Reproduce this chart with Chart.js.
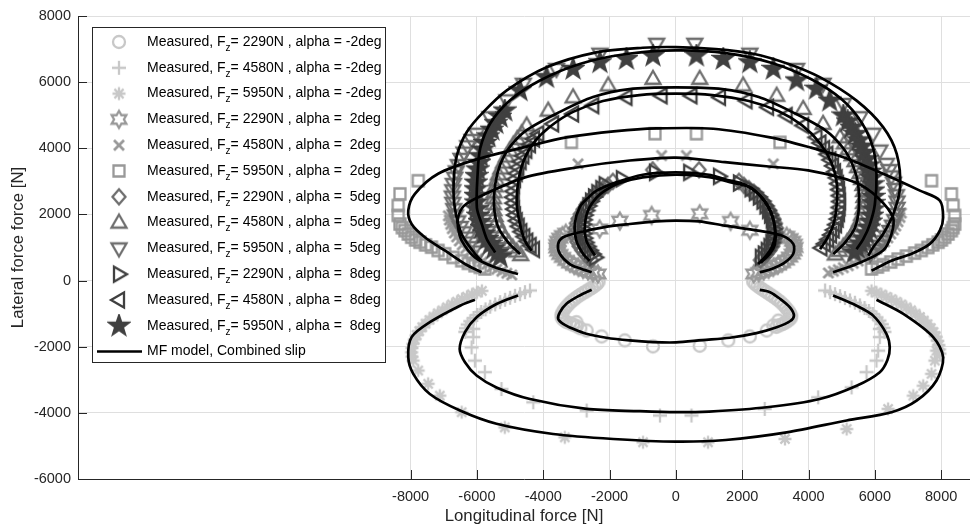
<!DOCTYPE html>
<html>
<head>
<meta charset="utf-8">
<script src="https://cdn.jsdelivr.net/npm/chart.js@4.4.1/dist/chart.umd.min.js"></script>
<style>
  html, body { margin: 0; padding: 0; background: #fff; }
  canvas { display: block; }
</style>
</head>
<body>
<canvas id="chart" width="970" height="528"></canvas>
<script>
// ---- axis ticks ----
const xTicks = [-8000, -6000, -4000, -2000, 0, 2000, 4000, 6000, 8000];
const yTicks = [-6000, -4000, -2000, 0, 2000, 4000, 6000, 8000];

// ---- legend text ----
const legendFz = ['2290', '4580', '5950', '2290', '4580', '5950', '2290', '4580', '5950', '2290', '4580', '5950'];
const legendAlpha = ['-2', '-2', '-2', ' 2', ' 2', ' 2', ' 5', ' 5', ' 5', ' 8', ' 8', ' 8'];
const modelLabel = 'MF model, Combined slip';

// ---- measured data [Fx, Fy] ----
const meas_m2_2290 = [[-3000,-1260],[-2690,-1510],[-2240,-1690],[-1540,-1810],[-690,-1990],[720,-1970],[1580,-1810],[2230,-1690],[2740,-1510],[2940,-1360],[3090,-1210],
  [-2330,-30],[-2380,-100],[-2450,-160],[-2530,-220],[-2620,-270],[-2710,-330],[-2800,-380],[-2890,-440],[-2980,-500],[-3070,-570],[-3160,-640],[-3240,-720],[-3310,-800],[-3370,-880],[-3420,-960],[-3450,-1040],[-3440,-1120],[-3390,-1190],[-3310,-1250],[-3200,-1290],[-3100,-1330],[-2990,-1380],[-2880,-1440],
  [2330,-30],[2390,-100],[2460,-160],[2540,-220],[2630,-280],[2720,-340],[2810,-400],[2900,-460],[2990,-520],[3080,-590],[3170,-660],[3250,-740],[3320,-820],[3390,-900],[3440,-980],[3480,-1060],[3460,-1140],[3400,-1200],[3320,-1260],[3230,-1310],[3130,-1350],[3030,-1400]];
const meas_m2_4580 = [[-6110,-1460],[-6110,-1710],[-6160,-2020],[-6060,-2420],[-5760,-2770],[-5260,-3280],[-4300,-3680],[-2690,-3930],[-480,-4080],[470,-4080],[2680,-3880],[4290,-3530],[5300,-3230],[5750,-2770],[6050,-2420],[6100,-2120],[6150,-1710],[6150,-1460],
  [-4400,-300],[-4550,-350],[-4700,-410],[-4850,-460],[-5000,-520],[-5150,-580],[-5300,-650],[-5450,-720],[-5600,-790],[-5740,-870],[-5870,-950],[-5990,-1040],[-6100,-1130],[-6200,-1230],[-6280,-1330],[-6330,-1440],[-6350,-1550],
  [4500,-300],[4650,-350],[4800,-410],[4950,-470],[5100,-530],[5250,-600],[5400,-670],[5550,-750],[5690,-830],[5820,-920],[5940,-1010],[6050,-1110],[6140,-1210],[6210,-1320],[6260,-1430],[6290,-1550]];
const meas_m2_5950 = [[-7920,-2420],[-7770,-2720],[-7470,-3120],[-7120,-3480],[-6460,-3980],[-5160,-4440],[-3350,-4740],[-990,-4890],[970,-4890],[3290,-4790],[5150,-4490],[6400,-3880],[7160,-3480],[7460,-3180],[7710,-2820],[7810,-2420],[7860,-2120],
  [-5850,-310],[-6000,-360],[-6150,-420],[-6300,-490],[-6450,-560],[-6600,-640],[-6750,-720],[-6900,-810],[-7040,-900],[-7180,-990],[-7310,-1090],[-7430,-1190],[-7550,-1300],[-7650,-1410],[-7740,-1530],[-7820,-1650],[-7880,-1780],[-7930,-1910],[-7960,-2040],[-7970,-2170],[-7960,-2300],
  [5900,-310],[6050,-360],[6200,-420],[6350,-490],[6500,-560],[6650,-640],[6800,-720],[6950,-810],[7090,-900],[7230,-1000],[7360,-1100],[7480,-1210],[7590,-1320],[7690,-1440],[7770,-1560],[7840,-1690],[7890,-1820],[7930,-1950],[7950,-2080],[7960,-2210]];
const meas_2_2290 = [[-2300,1560],[-1690,1800],[-730,1970],[720,2020],[1650,1790],[2230,1520],
  [-2350,200],[-2500,240],[-2650,290],[-2800,340],[-2940,400],[-3070,460],[-3200,530],[-3320,610],[-3420,700],[-3500,790],[-3560,890],[-3590,990],[-3590,1090],[-3560,1190],[-3500,1280],[-3420,1360],[-3320,1430],
  [2350,200],[2500,240],[2650,290],[2800,340],[2940,400],[3080,470],[3210,540],[3330,620],[3430,710],[3510,800],[3560,900],[3590,1000],[3570,1100],[3520,1190],[3440,1270],[3340,1340]];
const meas_2_4580 = [[-2950,3530],[-430,3780],[320,3780],[2940,3530],
  [-4950,170],[-5100,220],[-5250,280],[-5400,340],[-5550,410],[-5700,490],[-5840,570],[-5980,660],[-6110,760],[-6230,860],[-6340,970],[-6440,1080],[-6530,1200],[-6610,1320],[-6680,1440],[-6740,1570],[-6790,1700],[-6830,1830],[-6860,1960],
  [4600,230],[4750,280],[4900,330],[5050,390],[5200,450],[5350,520],[5500,590],[5650,670],[5790,760],[5930,850],[6060,950],[6180,1060],[6290,1170],[6390,1290],[6480,1410],[6560,1530],[6630,1650],[6700,1780],[6760,1910],[6800,2040]];
const meas_2_5950 = [[-3150,4180],[-630,4440],[620,4440],[3140,4180],
  [-7770,3020],[-8320,2620],[-8375,2270],[-8375,1970],[-8320,1710],[-8250,1600],[-8170,1510],[-8070,1410],[-7970,1310],[-7850,1230],[-7720,1160],[-7550,1080],[-7370,1010],[-7170,910],[-6970,810],[-6720,700],[-6460,600],[-6260,520],[-6060,450],[-5900,400],[-5760,350],
  [7710,3020],[8310,2620],[8360,2270],[8410,1970],[8410,1710],[8360,1600],[8310,1510],[8210,1410],[8110,1310],[8010,1230],[7910,1160],[7750,1080],[7600,1000],[7400,910],[7200,830],[6950,740],[6700,650],[6480,560],[6250,480],[6080,410],[5900,350]];
const meas_5_2290 = [[-1900,3000],[-700,3350],[700,3350],[1900,3000],
  [-2050,2880],[-2200,2780],[-2350,2670],[-2480,2550],[-2600,2420],[-2710,2290],[-2800,2150],[-2880,2010],[-2950,1870],[-3000,1730],[-3030,1590],[-3040,1450],[-3020,1310],[-2980,1170],[-2920,1040],[-2840,920],[-2750,810],[-2650,710],[-2550,620],
  [2050,2880],[2200,2780],[2350,2670],[2480,2550],[2600,2420],[2710,2290],[2800,2150],[2880,2010],[2950,1870],[3000,1730],[3030,1590],[3040,1450],[3020,1310],[2980,1170],[2920,1040],[2840,920],[2750,810],[2650,710],[2550,620]];
const meas_5_4580 = [[-690,6100],[-2040,5900],[-3100,5540],[-3850,5140],[-4500,4690],[720,6100],[2030,5900],[3040,5590],[3840,5190],[4440,4740],[4950,4330],
  [-4650,4450],[-4780,4280],[-4900,4110],[-5010,3930],[-5110,3750],[-5200,3570],[-5280,3390],[-5350,3210],[-5410,3030],[-5450,2850],[-5480,2670],[-5500,2490],[-5500,2310],[-5490,2130],[-5450,1950],[-5400,1780],[-5330,1610],[-5250,1450],[-5150,1290],[-5040,1140],[-4920,1000],[-4800,880],[-4680,770],
  [5080,4150],[5200,3970],[5310,3790],[5400,3610],[5480,3430],[5550,3250],[5600,3070],[5640,2890],[5660,2710],[5670,2530],[5660,2350],[5640,2170],[5600,1990],[5540,1810],[5470,1640],[5380,1480],[5280,1320],[5170,1170],[5050,1030],[4930,900],[4810,790]];
const meas_5_5950 = [[-580,7160],[-2290,6860],[-3600,6400],[-4600,5950],[-5100,5450],[-5610,4940],[-6010,4440],[570,7160],[2230,6860],[3640,6400],[4440,5950],[5050,5340],[5550,4940],[5950,4440],[6150,3930],[6350,3530],
  [-6150,4250],[-6280,4060],[-6390,3870],[-6480,3680],[-6560,3490],[-6620,3300],[-6670,3110],[-6710,2920],[-6730,2730],[-6740,2540],[-6730,2350],[-6700,2160],[-6650,1970],[-6580,1790],[-6500,1620],[-6400,1460],[-6290,1300],[-6170,1150],[-6040,1010],[-5910,880],
  [6430,3340],[6500,3150],[6560,2960],[6610,2770],[6650,2580],[6670,2390],[6670,2200],[6650,2010],[6600,1830],[6530,1660],[6450,1500],[6350,1340],[6240,1190],[6120,1050],[5990,920],[5860,800]];
const meas_8_2290 = [[-2150,2900],[-1630,3080],[-630,3270],[400,3270],[1300,3150],[1900,2950],
  [-2250,2780],[-2370,2660],[-2470,2530],[-2560,2400],[-2640,2260],[-2700,2120],[-2750,1980],[-2780,1840],[-2800,1700],[-2800,1560],[-2790,1420],[-2760,1280],[-2720,1150],[-2660,1030],[-2590,910],[-2510,800],[-2430,700],
  [2250,2780],[2380,2660],[2500,2530],[2610,2400],[2700,2260],[2780,2120],[2840,1980],[2890,1840],[2920,1700],[2940,1560],[2940,1420],[2920,1280],[2880,1150],[2820,1030],[2740,910],[2650,800],[2560,700]];
const meas_8_4580 = [[-430,5590],[-1490,5540],[-2490,5290],[-3100,5040],[-3700,4740],[-4150,4440],[470,5590],[1330,5540],[2130,5440],[2780,5240],[3340,4990],[3840,4690],[4240,4330],
  [-4280,4280],[-4400,4110],[-4510,3940],[-4600,3770],[-4680,3600],[-4750,3420],[-4800,3240],[-4850,3060],[-4880,2880],[-4900,2700],[-4910,2520],[-4900,2340],[-4880,2160],[-4850,1980],[-4800,1810],[-4740,1640],[-4660,1480],[-4570,1330],[-4480,1190],[-4380,1060],[-4280,940],
  [4360,4160],[4470,3990],[4570,3820],[4660,3650],[4740,3470],[4800,3290],[4850,3110],[4890,2930],[4920,2750],[4940,2570],[4950,2390],[4940,2210],[4920,2030],[4880,1860],[4830,1690],[4760,1530],[4680,1380],[4590,1240],[4490,1110],[4390,990]];
const meas_8_5950 = [[-690,6800],[-1490,6700],[-2290,6600],[-3100,6400],[-3900,6150],[-4700,5750],[-5160,5140],[620,6800],[1430,6700],[2230,6600],[2940,6400],[3640,6050],[4240,5800],[4640,5440],[5050,4990],
  [-5300,4950],[-5430,4760],[-5550,4560],[-5660,4360],[-5750,4160],[-5830,3960],[-5890,3760],[-5940,3560],[-5980,3360],[-6010,3160],[-6030,2960],[-6040,2760],[-6040,2560],[-6030,2360],[-6010,2160],[-5970,1960],[-5920,1770],[-5860,1590],[-5780,1420],[-5690,1260],[-5590,1110],[-5490,970],[-5390,840],[-5300,720],
  [5180,4810],[5300,4620],[5410,4430],[5510,4240],[5600,4050],[5680,3860],[5750,3670],[5810,3480],[5860,3290],[5900,3100],[5930,2910],[5950,2720],[5960,2530],[5960,2340],[5950,2150],[5920,1960],[5880,1780],[5820,1600],[5750,1430],[5670,1270],[5580,1120],[5480,980],[5380,850]];

// ---- MF model curves [Fx, Fy] ----
const mf_m2_2290 = [[-2540,-280],[-2900,-450],[-3300,-700],[-3500,-960],[-3550,-1160],[-3400,-1310],[-3100,-1460],[-2700,-1610],[-2100,-1730],[-1400,-1810],[-700,-1860],[0,-1870],[800,-1800],[1630,-1730],[2430,-1590],[3040,-1410],[3440,-1230],[3560,-1060],[3440,-810],[3140,-550],[2840,-350],[2530,-280]];
const mf_m2_4580 = [[-4760,-450],[-5410,-710],[-6010,-1110],[-6360,-1560],[-6520,-2070],[-6360,-2470],[-6010,-2870],[-5410,-3230],[-4400,-3580],[-2690,-3880],[-1090,-3950],[0,-3980],[1000,-3960],[2740,-3830],[4340,-3580],[5450,-3180],[6150,-2770],[6380,-2400],[6450,-2020],[6350,-1610],[5950,-1060],[5450,-760],[4740,-450]];
const mf_m2_5950 = [[-6060,-580],[-6510,-760],[-7420,-1260],[-7970,-1710],[-8070,-2320],[-7920,-2820],[-7420,-3430],[-6510,-3930],[-5410,-4330],[-3700,-4640],[-1890,-4790],[0,-4870],[1500,-4820],[3340,-4590],[5150,-4230],[6500,-3980],[7260,-3630],[7860,-3020],[8060,-2320],[7760,-1710],[6860,-1010],[6050,-580]];
const mf_2_2290 = [[-2540,250],[-2900,370],[-3200,500],[-3500,810],[-3550,1110],[-3400,1310],[-2900,1460],[-2190,1610],[-1390,1710],[-600,1790],[0,1815],[700,1790],[1480,1660],[2480,1510],[3190,1360],[3540,1110],[3540,810],[3290,550],[2890,350],[2530,250]];
const mf_2_4580 = [[-4760,200],[-5460,400],[-6060,700],[-6460,1210],[-6570,1610],[-6570,1910],[-6400,2250],[-5960,2520],[-4550,3120],[-3000,3420],[-1390,3630],[0,3720],[1480,3580],[2800,3450],[3990,3330],[5400,2970],[6100,2500],[6550,1900],[6500,1400],[6250,910],[5450,500],[4740,250]];
const mf_2_5950 = [[-5860,250],[-6360,500],[-6970,910],[-7570,1310],[-7970,1710],[-8070,2120],[-7870,2620],[-7170,3230],[-5960,3680],[-4500,4050],[-3300,4330],[-1800,4520],[-580,4600],[1130,4590],[2840,4330],[4040,4030],[5050,3730],[6250,3230],[7360,2720],[7960,2420],[8060,1910],[7960,1510],[7660,1110],[7110,810],[6500,600],[5900,300]];
const mf_5_2290 = [[-2600,600],[-2800,810],[-3000,1210],[-3050,1710],[-2900,2220],[-2650,2500],[-2390,2720],[-1800,2970],[-1000,3200],[0,3270],[1000,3200],[1480,3060],[2080,2900],[2590,2520],[2890,2020],[2990,1410],[2890,1010],[2680,700],[2480,500]];
const mf_5_4580 = [[-4700,800],[-5050,1150],[-5350,1600],[-5480,2200],[-5450,2900],[-5300,3500],[-5000,4050],[-4500,4550],[-3500,5100],[-2500,5550],[-1400,5790],[0,5840],[1400,5790],[2500,5550],[3500,5100],[4500,4550],[5050,4000],[5350,3450],[5500,2900],[5520,2200],[5400,1600],[5100,1150],[4750,800]];
const mf_5_5950 = [[-5860,600],[-6060,810],[-6460,1410],[-6670,2220],[-6700,3000],[-6600,3800],[-6300,4500],[-5800,5100],[-5100,5750],[-3900,6450],[-2400,6900],[-1000,7040],[0,7060],[1200,7000],[2330,6860],[3400,6550],[4340,6150],[5450,5440],[6250,4640],[6660,3830],[6760,2820],[6560,2020],[6250,1410],[5950,1010],[5800,750]];
const mf_8_2290 = [[-2440,760],[-2540,910],[-2700,1210],[-2750,1610],[-2650,2120],[-2400,2500],[-2140,2720],[-1700,2950],[-1000,3120],[0,3200],[1000,3130],[1700,2960],[2280,2800],[2780,2220],[2990,1610],[2990,1110],[2840,820],[2560,540]];
const mf_8_4580 = [[-4350,900],[-4550,1200],[-4700,1700],[-4800,2300],[-4750,3000],[-4600,3600],[-4300,4150],[-3800,4650],[-3100,5100],[-2200,5430],[-1100,5610],[0,5650],[1100,5610],[2200,5430],[3100,5120],[3800,4700],[4350,4150],[4700,3550],[4850,2950],[4850,2300],[4750,1700],[4550,1250],[4350,950]];
const mf_8_5950 = [[-5450,850],[-5700,1250],[-5850,1700],[-6000,2200],[-5980,3200],[-5900,4000],[-5600,4750],[-5000,5450],[-4100,6050],[-2900,6550],[-1500,6850],[0,6960],[1500,6880],[2900,6580],[4100,6080],[5000,5480],[5600,4780],[5950,4000],[6050,3200],[6000,2300],[5850,1700],[5650,1250],[5450,950]];

const measSeries = [meas_m2_2290, meas_m2_4580, meas_m2_5950, meas_2_2290, meas_2_4580, meas_2_5950,
  meas_5_2290, meas_5_4580, meas_5_5950, meas_8_2290, meas_8_4580, meas_8_5950];
const modelSeries = [mf_m2_2290, mf_m2_4580, mf_m2_5950, mf_2_2290, mf_2_4580, mf_2_5950,
  mf_5_2290, mf_5_4580, mf_5_5950, mf_8_2290, mf_8_4580, mf_8_5950];

// ---- styles ----
const markerShapes = ['o', '+', '*', 'h', 'x', 's', 'd', '^', 'v', '>', '<', 'p'];
const markerColors = ['#c8c8c8', '#c8c8c8', '#c8c8c8', '#999999', '#999999', '#999999',
  '#6e6e6e', '#6e6e6e', '#6e6e6e', '#404040', '#404040', '#404040'];
const axisColor = '#262626';
const gridColor = '#dfdfdf';
const fontFamily = '"Liberation Sans", Arial, Helvetica, sans-serif';

function poly(g, pts) {
  g.moveTo(pts[0][0], pts[0][1]);
  for (let i = 1; i < pts.length; i++) g.lineTo(pts[i][0], pts[i][1]);
  g.closePath();
}

function starPts(n, R, r) {
  const out = [];
  for (let i = 0; i < 2 * n; i++) {
    const a = -Math.PI / 2 + i * Math.PI / n;
    const rr = i % 2 ? r : R;
    out.push([rr * Math.cos(a), rr * Math.sin(a)]);
  }
  return out;
}

// marker glyphs, drawn once and handed to Chart.js as pointStyle images
function makeMarker(shape, color) {
  const s = 24, c = document.createElement('canvas');
  c.width = s; c.height = s;
  const g = c.getContext('2d');
  g.translate(s / 2, s / 2);
  g.strokeStyle = color; g.fillStyle = color;
  g.lineWidth = 2.3; g.lineJoin = 'miter';
  g.beginPath();
  switch (shape) {
    case 'o': g.arc(0, 0, 6, 0, Math.PI * 2); break;
    case '+': g.moveTo(-7, 0); g.lineTo(7, 0); g.moveTo(0, -7); g.lineTo(0, 7); break;
    case '*':
      for (let k = 0; k < 4; k++) {
        const a = k * Math.PI / 4;
        g.moveTo(-6.5 * Math.cos(a), -6.5 * Math.sin(a)); g.lineTo(6.5 * Math.cos(a), 6.5 * Math.sin(a));
      }
      break;
    case 'h': poly(g, starPts(6, 8.5, 4.9)); break;
    case 'x': g.lineWidth = 2.8; g.moveTo(-5, -5); g.lineTo(5, 5); g.moveTo(-5, 5); g.lineTo(5, -5); break;
    case 's': g.rect(-5.5, -5.5, 11, 11); break;
    case 'd': poly(g, [[0, -7.5], [6.5, 0], [0, 7.5], [-6.5, 0]]); break;
    case '^': poly(g, [[0, -8], [7.5, 5], [-7.5, 5]]); break;
    case 'v': poly(g, [[0, 8], [7.5, -5], [-7.5, -5]]); break;
    case '>': poly(g, [[8, 0], [-5, 7.5], [-5, -7.5]]); break;
    case '<': poly(g, [[-8, 0], [5, 7.5], [5, -7.5]]); break;
    case 'p': poly(g, starPts(5, 10, 4)); g.fill(); break;
  }
  g.stroke();
  return c;
}

const markers = markerShapes.map((m, i) => makeMarker(m, markerColors[i]));
const toXY = arr => arr.map(p => ({ x: p[0], y: p[1] }));

const datasets = [];
measSeries.forEach((s, i) => {
  datasets.push({
    data: toXY(s), showLine: false, pointStyle: markers[i], pointRadius: 6,
    order: 20 - i
  });
});
modelSeries.forEach(s => {
  datasets.push({
    data: toXY(s), showLine: true, borderColor: '#000', borderWidth: 2.7,
    pointRadius: 0, tension: 0.3, fill: false, order: 0
  });
});

// MATLAB style ticks pointing into the axes
const inwardTicks = {
  id: 'inwardTicks',
  afterDraw(chart) {
    const { ctx, chartArea: a, scales: { x, y } } = chart;
    ctx.save();
    ctx.strokeStyle = axisColor; ctx.lineWidth = 1;
    ctx.beginPath();
    xTicks.forEach(v => {
      const p = Math.round(x.getPixelForValue(v)) + 0.5;
      ctx.moveTo(p, a.bottom); ctx.lineTo(p, a.bottom - 9);
    });
    yTicks.forEach(v => {
      const p = Math.round(y.getPixelForValue(v)) + 0.5;
      ctx.moveTo(a.left, p); ctx.lineTo(a.left + 9, p);
    });
    ctx.stroke();
    ctx.restore();
  }
};

// boxed legend with subscript z
const boxLegend = {
  id: 'boxLegend',
  afterDraw(chart) {
    const ctx = chart.ctx;
    const bx = 92.5, by = 27.5, bw = 293, bh = 335;
    ctx.save();
    ctx.fillStyle = '#fff';
    ctx.fillRect(bx, by, bw, bh);
    ctx.strokeStyle = axisColor; ctx.lineWidth = 1;
    ctx.strokeRect(bx, by, bw, bh);
    ctx.textBaseline = 'middle';
    ctx.fillStyle = '#000';
    const tx = 147, rowH = 25.8, y0 = 42;
    legendFz.forEach((fz, i) => {
      const y = y0 + i * rowH;
      const m = markers[i];
      ctx.drawImage(m, 119 - m.width / 2, y - m.height / 2);
      ctx.font = '14px ' + fontFamily;
      ctx.fillText('Measured, F', tx, y);
      let xx = tx + ctx.measureText('Measured, F').width;
      ctx.font = '10px ' + fontFamily;
      ctx.fillText('z', xx, y + 6);
      xx += ctx.measureText('z').width;
      ctx.font = '14px ' + fontFamily;
      ctx.fillText('= ' + fz + 'N , alpha = ' + legendAlpha[i] + 'deg', xx, y);
    });
    const ym = y0 + 12 * rowH;
    ctx.strokeStyle = '#000'; ctx.lineWidth = 2.5;
    ctx.beginPath(); ctx.moveTo(97, ym); ctx.lineTo(142, ym); ctx.stroke();
    ctx.font = '14px ' + fontFamily;
    ctx.fillText(modelLabel, tx, ym);
    ctx.restore();
  }
};

new Chart(document.getElementById('chart'), {
  type: 'scatter',
  data: { datasets },
  plugins: [inwardTicks, boxLegend],
  options: {
    responsive: false,
    animation: false,
    devicePixelRatio: 1,
    layout: { autoPadding: false, padding: { top: 16, left: 0, right: 0, bottom: 0 } },
    plugins: { legend: { display: false }, tooltip: { enabled: false } },
    scales: {
      x: {
        type: 'linear', min: -18030, max: 8870,
        afterBuildTicks: s => { s.ticks = xTicks.map(v => ({ value: v })); },
        afterFit: s => { s.height = 49; s.paddingLeft = 0; s.paddingRight = 0; },
        grid: { color: gridColor, lineWidth: 1, drawTicks: false },
        border: { color: axisColor, width: 1 },
        ticks: { color: axisColor, font: { family: fontFamily, size: 14.5 }, padding: 9,
                 maxRotation: 0, autoSkip: false, callback: v => String(v) },
        title: { display: true, text: 'Longitudinal force [N]', color: axisColor,
                 font: { family: fontFamily, size: 16.8 }, padding: { top: 0, bottom: 2 } }
      },
      y: {
        type: 'linear', min: -6000, max: 8000,
        afterBuildTicks: s => { s.ticks = yTicks.map(v => ({ value: v })); },
        afterFit: s => { s.width = 78; s.paddingTop = 0; s.paddingBottom = 0; },
        grid: { color: gridColor, lineWidth: 1, drawTicks: false },
        border: { color: axisColor, width: 1 },
        ticks: { color: axisColor, font: { family: fontFamily, size: 14.5 }, padding: 7,
                 callback: v => String(v) },
        title: { display: true, text: 'Lateral force force [N]', color: axisColor,
                 font: { family: fontFamily, size: 16.8 }, padding: { top: 8, bottom: 0 } }
      }
    }
  }
});
</script>
</body>
</html>
